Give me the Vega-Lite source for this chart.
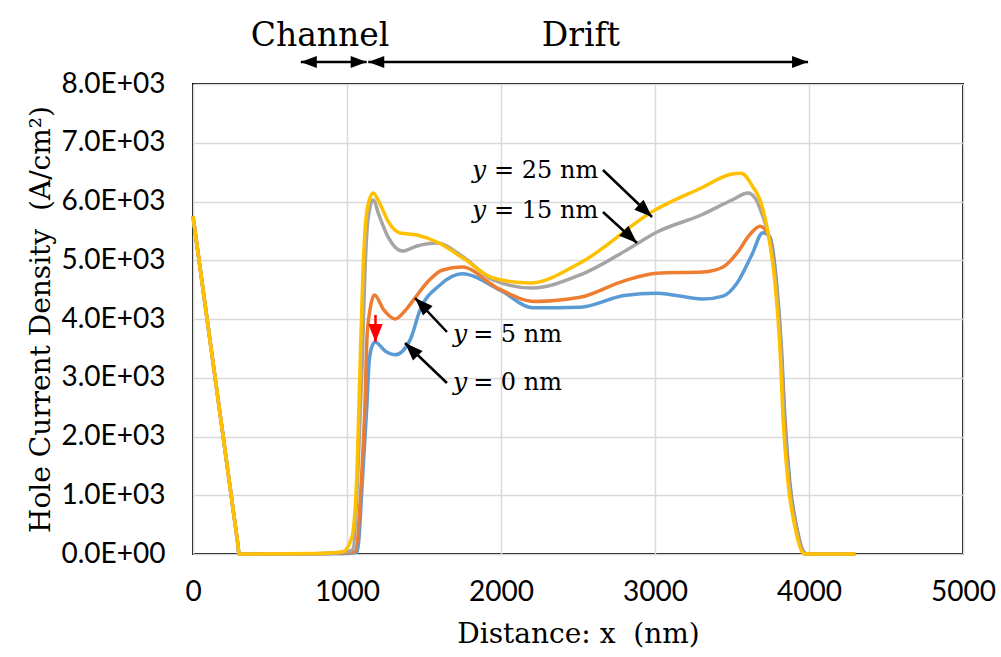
{
  "$schema": "https://vega.github.io/schema/vega-lite/v6.json",
  "width": 770,
  "height": 470,
  "autosize": {"type": "none"},
  "padding": {"left": 193, "top": 84, "right": 38, "bottom": 103},
  "background": "white",
  "config": {
    "view": {"stroke": "#000", "strokeWidth": 2},
    "axis": {
      "grid": true, "gridColor": "#D9D9D9", "gridWidth": 1.5,
      "domain": false, "ticks": false,
      "labelFont": "Lato", "labelFontSize": 28, "labelColor": "#000",
      "titleFont": "DejaVu Serif", "titleFontSize": 28, "titleFontWeight": "normal", "titleColor": "#000"
    }
  },
  "datasets": {
    "curves": [
      {"s": "y = 0 nm", "x": 0, "j": 5750}, {"s": "y = 0 nm", "x": 150, "j": 2875}, {"s": "y = 0 nm", "x": 290, "j": 192}, {"s": "y = 0 nm", "x": 300, "j": 0}, {"s": "y = 0 nm", "x": 800, "j": 5}, {"s": "y = 0 nm", "x": 1000, "j": 10}, {"s": "y = 0 nm", "x": 1065, "j": 30},
      {"s": "y = 0 nm", "x": 1104, "j": 1430}, {"s": "y = 0 nm", "x": 1130, "j": 2570}, {"s": "y = 0 nm", "x": 1143, "j": 3250}, {"s": "y = 0 nm", "x": 1160, "j": 3520}, {"s": "y = 0 nm", "x": 1182, "j": 3610},
      {"s": "y = 0 nm", "x": 1250, "j": 3450}, {"s": "y = 0 nm", "x": 1312, "j": 3390}, {"s": "y = 0 nm", "x": 1409, "j": 3640}, {"s": "y = 0 nm", "x": 1474, "j": 4150}, {"s": "y = 0 nm", "x": 1604, "j": 4580},
      {"s": "y = 0 nm", "x": 1747, "j": 4770}, {"s": "y = 0 nm", "x": 2000, "j": 4480}, {"s": "y = 0 nm", "x": 2208, "j": 4190}, {"s": "y = 0 nm", "x": 2513, "j": 4200}, {"s": "y = 0 nm", "x": 2800, "j": 4400},
      {"s": "y = 0 nm", "x": 3013, "j": 4440}, {"s": "y = 0 nm", "x": 3312, "j": 4340}, {"s": "y = 0 nm", "x": 3442, "j": 4390}, {"s": "y = 0 nm", "x": 3532, "j": 4610}, {"s": "y = 0 nm", "x": 3630, "j": 5100},
      {"s": "y = 0 nm", "x": 3700, "j": 5470}, {"s": "y = 0 nm", "x": 3745, "j": 5400}, {"s": "y = 0 nm", "x": 3790, "j": 4600}, {"s": "y = 0 nm", "x": 3822, "j": 3470}, {"s": "y = 0 nm", "x": 3843, "j": 2330},
      {"s": "y = 0 nm", "x": 3876, "j": 1210}, {"s": "y = 0 nm", "x": 3920, "j": 460}, {"s": "y = 0 nm", "x": 3972, "j": 20}, {"s": "y = 0 nm", "x": 3995, "j": 0}, {"s": "y = 0 nm", "x": 4300, "j": 0},

      {"s": "y = 5 nm", "x": 0, "j": 5750}, {"s": "y = 5 nm", "x": 150, "j": 2875}, {"s": "y = 5 nm", "x": 290, "j": 192}, {"s": "y = 5 nm", "x": 300, "j": 0}, {"s": "y = 5 nm", "x": 800, "j": 5}, {"s": "y = 5 nm", "x": 1000, "j": 20}, {"s": "y = 5 nm", "x": 1052, "j": 40},
      {"s": "y = 5 nm", "x": 1097, "j": 1430}, {"s": "y = 5 nm", "x": 1117, "j": 2570}, {"s": "y = 5 nm", "x": 1130, "j": 3690}, {"s": "y = 5 nm", "x": 1149, "j": 4150}, {"s": "y = 5 nm", "x": 1178, "j": 4410},
      {"s": "y = 5 nm", "x": 1240, "j": 4150}, {"s": "y = 5 nm", "x": 1312, "j": 4000}, {"s": "y = 5 nm", "x": 1380, "j": 4150}, {"s": "y = 5 nm", "x": 1442, "j": 4360}, {"s": "y = 5 nm", "x": 1530, "j": 4650},
      {"s": "y = 5 nm", "x": 1617, "j": 4830}, {"s": "y = 5 nm", "x": 1747, "j": 4885}, {"s": "y = 5 nm", "x": 1974, "j": 4530}, {"s": "y = 5 nm", "x": 2221, "j": 4300}, {"s": "y = 5 nm", "x": 2513, "j": 4370},
      {"s": "y = 5 nm", "x": 2800, "j": 4650}, {"s": "y = 5 nm", "x": 3013, "j": 4780}, {"s": "y = 5 nm", "x": 3312, "j": 4800}, {"s": "y = 5 nm", "x": 3442, "j": 4885}, {"s": "y = 5 nm", "x": 3532, "j": 5120},
      {"s": "y = 5 nm", "x": 3620, "j": 5450}, {"s": "y = 5 nm", "x": 3682, "j": 5580}, {"s": "y = 5 nm", "x": 3740, "j": 5400}, {"s": "y = 5 nm", "x": 3785, "j": 4600}, {"s": "y = 5 nm", "x": 3818, "j": 3470},
      {"s": "y = 5 nm", "x": 3840, "j": 2330}, {"s": "y = 5 nm", "x": 3872, "j": 1210}, {"s": "y = 5 nm", "x": 3917, "j": 460}, {"s": "y = 5 nm", "x": 3968, "j": 20}, {"s": "y = 5 nm", "x": 3990, "j": 0}, {"s": "y = 5 nm", "x": 4300, "j": 0},

      {"s": "y = 15 nm", "x": 0, "j": 5750}, {"s": "y = 15 nm", "x": 150, "j": 2875}, {"s": "y = 15 nm", "x": 290, "j": 192}, {"s": "y = 15 nm", "x": 300, "j": 0}, {"s": "y = 15 nm", "x": 800, "j": 5}, {"s": "y = 15 nm", "x": 1000, "j": 40}, {"s": "y = 15 nm", "x": 1039, "j": 80},
      {"s": "y = 15 nm", "x": 1071, "j": 1430}, {"s": "y = 15 nm", "x": 1097, "j": 3130}, {"s": "y = 15 nm", "x": 1117, "j": 4830}, {"s": "y = 15 nm", "x": 1136, "j": 5685}, {"s": "y = 15 nm", "x": 1169, "j": 6025},
      {"s": "y = 15 nm", "x": 1210, "j": 5750}, {"s": "y = 15 nm", "x": 1270, "j": 5380}, {"s": "y = 15 nm", "x": 1357, "j": 5157}, {"s": "y = 15 nm", "x": 1455, "j": 5243}, {"s": "y = 15 nm", "x": 1584, "j": 5293},
      {"s": "y = 15 nm", "x": 1753, "j": 5060}, {"s": "y = 15 nm", "x": 1948, "j": 4664}, {"s": "y = 15 nm", "x": 2200, "j": 4528}, {"s": "y = 15 nm", "x": 2513, "j": 4749}, {"s": "y = 15 nm", "x": 2838, "j": 5208},
      {"s": "y = 15 nm", "x": 3013, "j": 5480}, {"s": "y = 15 nm", "x": 3300, "j": 5770}, {"s": "y = 15 nm", "x": 3500, "j": 6025}, {"s": "y = 15 nm", "x": 3604, "j": 6145}, {"s": "y = 15 nm", "x": 3650, "j": 6060},
      {"s": "y = 15 nm", "x": 3700, "j": 5750}, {"s": "y = 15 nm", "x": 3740, "j": 5400}, {"s": "y = 15 nm", "x": 3785, "j": 4600}, {"s": "y = 15 nm", "x": 3818, "j": 3470}, {"s": "y = 15 nm", "x": 3837, "j": 2330},
      {"s": "y = 15 nm", "x": 3870, "j": 1210}, {"s": "y = 15 nm", "x": 3915, "j": 460}, {"s": "y = 15 nm", "x": 3965, "j": 20}, {"s": "y = 15 nm", "x": 3985, "j": 0}, {"s": "y = 15 nm", "x": 4300, "j": 0},

      {"s": "y = 25 nm", "x": 0, "j": 5750}, {"s": "y = 25 nm", "x": 150, "j": 2875}, {"s": "y = 25 nm", "x": 290, "j": 192}, {"s": "y = 25 nm", "x": 300, "j": 0}, {"s": "y = 25 nm", "x": 800, "j": 10}, {"s": "y = 25 nm", "x": 974, "j": 40}, {"s": "y = 25 nm", "x": 1032, "j": 290},
      {"s": "y = 25 nm", "x": 1065, "j": 1430}, {"s": "y = 25 nm", "x": 1084, "j": 3130}, {"s": "y = 25 nm", "x": 1104, "j": 4830}, {"s": "y = 25 nm", "x": 1130, "j": 5850}, {"s": "y = 25 nm", "x": 1169, "j": 6145},
      {"s": "y = 25 nm", "x": 1210, "j": 5980}, {"s": "y = 25 nm", "x": 1270, "j": 5650}, {"s": "y = 25 nm", "x": 1344, "j": 5464}, {"s": "y = 25 nm", "x": 1455, "j": 5430}, {"s": "y = 25 nm", "x": 1584, "j": 5310},
      {"s": "y = 25 nm", "x": 1753, "j": 5038}, {"s": "y = 25 nm", "x": 1948, "j": 4698}, {"s": "y = 25 nm", "x": 2188, "j": 4613}, {"s": "y = 25 nm", "x": 2513, "j": 4953}, {"s": "y = 25 nm", "x": 3000, "j": 5855},
      {"s": "y = 25 nm", "x": 3300, "j": 6230}, {"s": "y = 25 nm", "x": 3500, "j": 6468}, {"s": "y = 25 nm", "x": 3560, "j": 6480}, {"s": "y = 25 nm", "x": 3636, "j": 6247}, {"s": "y = 25 nm", "x": 3682, "j": 6025},
      {"s": "y = 25 nm", "x": 3734, "j": 5464}, {"s": "y = 25 nm", "x": 3779, "j": 4613}, {"s": "y = 25 nm", "x": 3812, "j": 3472}, {"s": "y = 25 nm", "x": 3831, "j": 2332}, {"s": "y = 25 nm", "x": 3864, "j": 1209},
      {"s": "y = 25 nm", "x": 3909, "j": 460}, {"s": "y = 25 nm", "x": 3961, "j": 17}, {"s": "y = 25 nm", "x": 3980, "j": 0}, {"s": "y = 25 nm", "x": 4300, "j": 0}
    ],
    "shafts": [
      {"x": 2662, "y": 6536, "x2": 2981, "y2": 5736},
      {"x": 2662, "y": 5821, "x2": 2883, "y2": 5294},
      {"x": 1649, "y": 3779, "x2": 1442, "y2": 4357},
      {"x": 1649, "y": 2911, "x2": 1377, "y2": 3591},
      {"x": 700, "y": 8374, "x2": 1128, "y2": 8374},
      {"x": 1138, "y": 8374, "x2": 3994, "y2": 8374}
    ],
    "headsDownRight": [{"x": 2981, "y": 5736}, {"x": 2883, "y": 5294}],
    "headsUpLeft": [{"x": 1442, "y": 4357}, {"x": 1377, "y": 3591}],
    "headsRight": [{"x": 1128, "y": 8374}, {"x": 3994, "y": 8374}],
    "headsLeft": [{"x": 700, "y": 8374}, {"x": 1138, "y": 8374}],
    "red": [{"x": 1185, "y": 4068, "y2": 3609}],
    "italicY": [
      {"x": 1858, "y": 6400}, {"x": 1858, "y": 5719}, {"x": 1734, "y": 3609}, {"x": 1734, "y": 2791}
    ],
    "labels": [
      {"x": 1955, "y": 6400, "t": "= 25 nm"}, {"x": 1955, "y": 5719, "t": "= 15 nm"},
      {"x": 1819, "y": 3609, "t": "= 5 nm"}, {"x": 1819, "y": 2791, "t": "= 0 nm"}
    ],
    "regions": [{"x": 825, "y": 8647, "t": "Channel"}, {"x": 2519, "y": 8647, "t": "Drift"}]
  },
  "layer": [
    {
      "data": {"name": "curves"},
      "mark": {"type": "line", "strokeWidth": 3.5, "interpolate": "monotone"},
      "encoding": {
        "x": {"field": "x", "type": "quantitative",
              "scale": {"domain": [0, 5000], "nice": false},
              "axis": {"values": [0, 1000, 2000, 3000, 4000, 5000], "format": "d", "labelFlush": false, "labelPadding": 24, "titlePadding": 14, "title": "Distance: x\u00a0\u00a0(nm)"}},
        "y": {"field": "j", "type": "quantitative",
              "scale": {"domain": [0, 8000], "nice": false},
              "axis": {"values": [0, 1000, 2000, 3000, 4000, 5000, 6000, 7000, 8000], "labelPadding": 28, "titlePadding": 6,
                       "labelExpr": "replace(format(datum.value, '.1e'), 'e+', 'E+0')",
                       "title": "Hole Current Density\u00a0\u00a0(A/cm\u00b2)"}},
        "color": {"field": "s", "type": "nominal",
                  "scale": {"domain": ["y = 0 nm", "y = 5 nm", "y = 15 nm", "y = 25 nm"], "range": ["#5B9BD5", "#ED7D31", "#A5A5A5", "#FFC000"]},
                  "legend": null}
      }
    },
    {
      "data": {"name": "shafts"},
      "mark": {"type": "rule", "color": "#000", "strokeWidth": 2.5},
      "encoding": {
        "x": {"field": "x", "type": "quantitative"}, "y": {"field": "y", "type": "quantitative"},
        "x2": {"field": "x2"}, "y2": {"field": "y2"}
      }
    },
    {
      "data": {"name": "headsDownRight"},
      "mark": {"type": "point", "shape": "M0,0 L-2,-0.75 L-2,0.75 Z", "filled": true, "color": "#000", "opacity": 1, "size": 324, "angle": 43},
      "encoding": {"x": {"field": "x", "type": "quantitative"}, "y": {"field": "y", "type": "quantitative"}}
    },
    {
      "data": {"name": "headsUpLeft"},
      "mark": {"type": "point", "shape": "M0,0 L-2,-0.75 L-2,0.75 Z", "filled": true, "color": "#000", "opacity": 1, "size": 324, "angle": 225},
      "encoding": {"x": {"field": "x", "type": "quantitative"}, "y": {"field": "y", "type": "quantitative"}}
    },
    {
      "data": {"name": "headsRight"},
      "mark": {"type": "point", "shape": "M0,0 L-2,-0.75 L-2,0.75 Z", "filled": true, "color": "#000", "opacity": 1, "size": 256, "angle": 0},
      "encoding": {"x": {"field": "x", "type": "quantitative"}, "y": {"field": "y", "type": "quantitative"}}
    },
    {
      "data": {"name": "headsLeft"},
      "mark": {"type": "point", "shape": "M0,0 L-2,-0.75 L-2,0.75 Z", "filled": true, "color": "#000", "opacity": 1, "size": 256, "angle": 180},
      "encoding": {"x": {"field": "x", "type": "quantitative"}, "y": {"field": "y", "type": "quantitative"}}
    },
    {
      "data": {"name": "red"},
      "mark": {"type": "rule", "color": "#FF0000", "strokeWidth": 2.5},
      "encoding": {"x": {"field": "x", "type": "quantitative"}, "y": {"field": "y", "type": "quantitative"}, "y2": {"field": "y2"}}
    },
    {
      "data": {"name": "red"},
      "mark": {"type": "point", "shape": "M0,0 L-2,-0.8 L-2,0.8 Z", "filled": true, "color": "#FF0000", "opacity": 1, "size": 324, "angle": 90},
      "encoding": {"x": {"field": "x", "type": "quantitative"}, "y": {"field": "y2", "type": "quantitative"}}
    },
    {
      "data": {"name": "italicY"},
      "mark": {"type": "text", "text": "y", "font": "DejaVu Serif", "fontStyle": "italic", "fontSize": 25, "align": "center", "baseline": "alphabetic", "color": "#000"},
      "encoding": {"x": {"field": "x", "type": "quantitative"}, "y": {"field": "y", "type": "quantitative"}}
    },
    {
      "data": {"name": "labels"},
      "mark": {"type": "text", "font": "DejaVu Serif", "fontSize": 24, "align": "left", "baseline": "alphabetic", "color": "#000"},
      "encoding": {"x": {"field": "x", "type": "quantitative"}, "y": {"field": "y", "type": "quantitative"}, "text": {"field": "t"}}
    },
    {
      "data": {"name": "regions"},
      "mark": {"type": "text", "font": "DejaVu Serif", "fontSize": 33, "align": "center", "baseline": "alphabetic", "color": "#000"},
      "encoding": {"x": {"field": "x", "type": "quantitative"}, "y": {"field": "y", "type": "quantitative"}, "text": {"field": "t"}}
    }
  ]
}
